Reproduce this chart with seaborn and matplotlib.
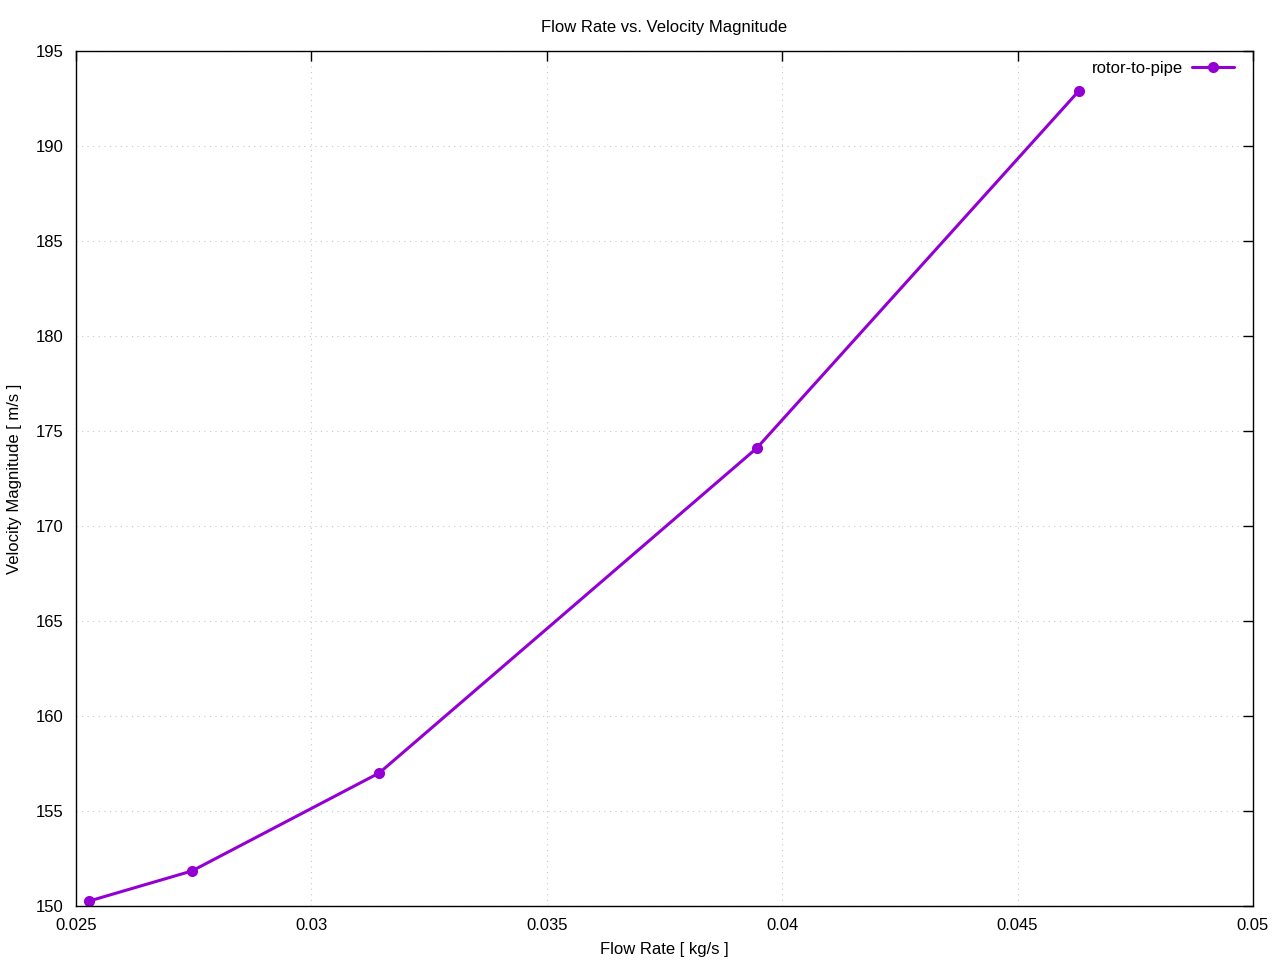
import seaborn as sns
import matplotlib.pyplot as plt
import pandas as pd

# values
flow_rate = [0.02528, 0.02746, 0.03144, 0.03946, 0.04630]
velocity = [150.26, 151.84, 157.0, 174.1, 192.9]
series_name = "rotor-to-pipe"

x_ticks = [0.025, 0.03, 0.035, 0.04, 0.045, 0.05]
x_labels = ["0.025", "0.03", "0.035", "0.04", "0.045", "0.05"]
y_ticks = [150, 155, 160, 165, 170, 175, 180, 185, 190, 195]

df = pd.DataFrame({"flow": flow_rate, "vel": velocity, "series": series_name})

sns.set_style("white")
plt.rcParams['font.family'] = ['Liberation Sans', 'DejaVu Sans']
plt.rcParams['text.color'] = 'black'
plt.rcParams['axes.labelcolor'] = 'black'

fig = plt.figure(figsize=(12.8, 9.6), dpi=100)
ax = fig.add_axes([0.0594, 0.0563, 0.9195, 0.8905])

sns.lineplot(data=df, x="flow", y="vel", hue="series", palette=["#9400d3"],
             marker="o", markersize=8, markeredgewidth=0, linewidth=2.2, ax=ax)

ax.set_xlim(0.025, 0.05)
ax.set_ylim(150, 195)
ax.set_xticks(x_ticks)
ax.set_xticklabels(x_labels)
ax.set_yticks(y_ticks)
ax.tick_params(direction="in", length=7, width=1, top=True, right=True,
               labelsize=12, pad=9, colors="black")
ax.grid(True, color="#c8c8c8", linestyle=(0, (1, 4)), linewidth=0.8)
for s in ax.spines.values():
    s.set_color("black")
    s.set_linewidth(1)

ax.set_title("Flow Rate vs. Velocity Magnitude", fontsize=12, pad=14, color="black")
ax.set_xlabel("Flow Rate [ kg/s ]", fontsize=12, labelpad=6)
ax.set_ylabel("Velocity Magnitude [ m/s ]", fontsize=12, labelpad=10)

leg = ax.legend(loc="upper right", bbox_to_anchor=(0.9936, 1.002), frameon=False,
                fontsize=12, markerfirst=False, handlelength=2.5,
                handletextpad=0.55, borderaxespad=0.3)
leg.set_title(None)

fig.savefig("out.png", dpi=100)
